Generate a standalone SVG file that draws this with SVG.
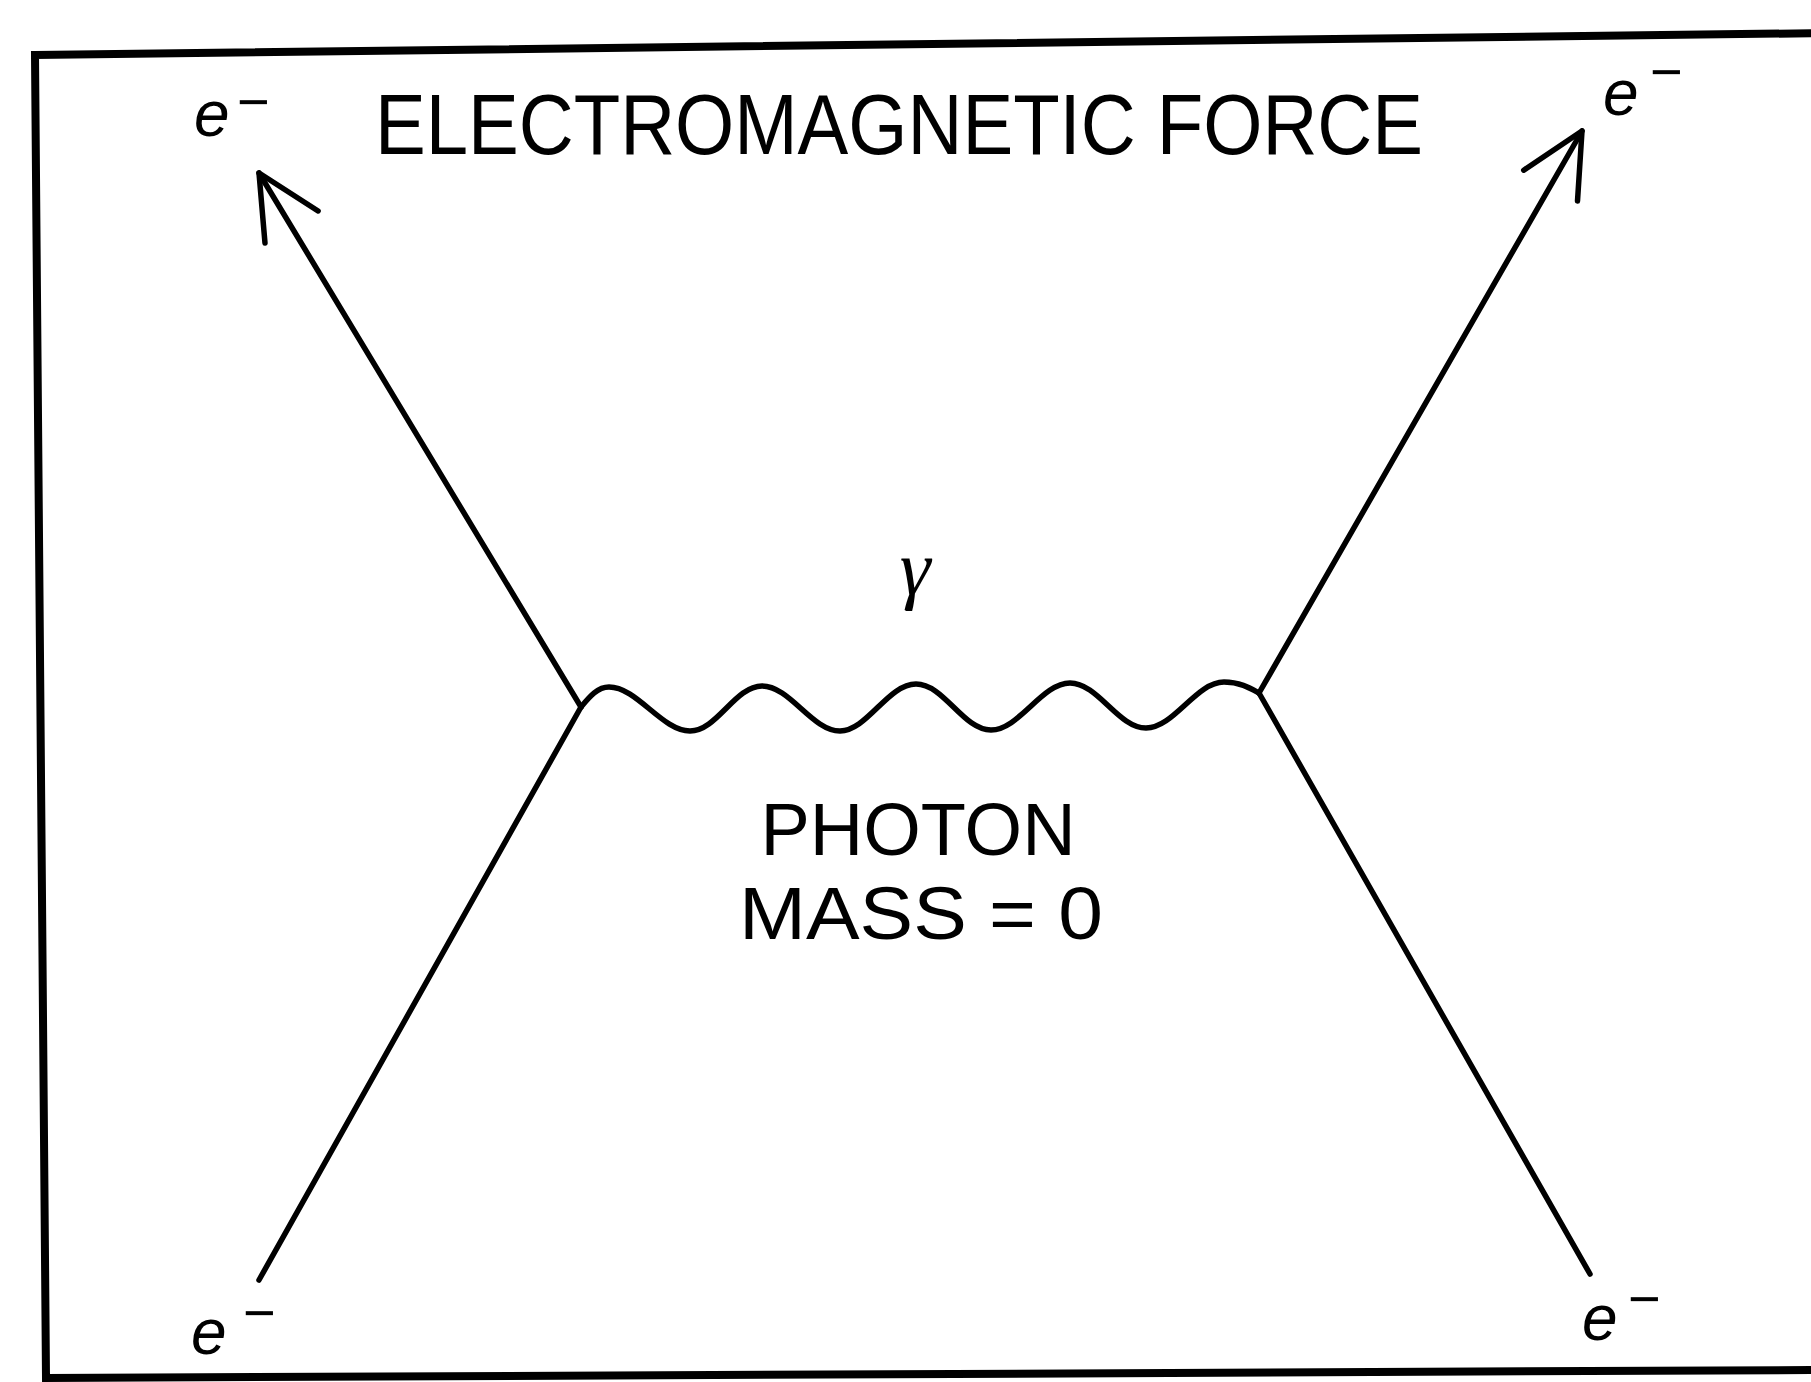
<svg xmlns="http://www.w3.org/2000/svg" width="1811" height="1382" viewBox="0 0 1811 1382">
<defs>
<style>
.ln{stroke:#000;stroke-width:5.5;fill:none;stroke-linecap:round;stroke-linejoin:round}
.lbl{font-family:"Liberation Sans",Arial,sans-serif;fill:#000}
.e{font-family:"Liberation Sans",Arial,sans-serif;font-style:italic;font-size:64px;fill:#000}
.m{font-family:"Liberation Sans",Arial,sans-serif;font-size:56px;fill:#000}
</style>
<marker id="arr" markerUnits="userSpaceOnUse" markerWidth="100" markerHeight="100" refX="0" refY="0" viewBox="-80 -50 100 100" orient="auto" overflow="visible">
<path d="M -63 -31 L 0 0 L -63 31" fill="none" stroke="#000" stroke-width="5.5" stroke-linecap="round" stroke-linejoin="round"/>
</marker>
</defs>
<rect width="1811" height="1382" fill="#fff"/>
<g id="frame">
<path d="M 35 55 L 1830 33 L 1830 1370 L 46 1378 Z" fill="none" stroke="#000" stroke-width="8"/>
</g>
<g id="title">
<text class="lbl" x="375" y="154" font-size="86" textLength="1048" lengthAdjust="spacingAndGlyphs">ELECTROMAGNETIC FORCE</text>
</g>
<g id="connectors">
<line class="ln" x1="581" y1="707" x2="259" y2="173" marker-end="url(#arr)"/>
<line class="ln" x1="581" y1="707" x2="259" y2="1280"/>
<line class="ln" x1="1259" y1="693" x2="1582" y2="131" marker-end="url(#arr)"/>
<line class="ln" x1="1259" y1="693" x2="1590" y2="1274"/>
<path id="photon" class="ln" d="M 581 707 C 590 696 598 687 609 687 C 637 687 662 731 690 731 C 717 731 735 686 762 686 C 790 686 812 731 840 731 C 867 731 888 684 916 684 C 944 684 963 730 991 730 C 1019 730 1042 683 1070 683 C 1098 683 1118 728 1146 728 C 1174 728 1196 682 1224 682 C 1240 682 1250 688 1259 693"/>
</g>
<g id="e-top-left"><text class="e" x="194" y="136">e</text><text class="m" x="237" y="121">−</text></g>
<g id="e-top-right"><text class="e" x="1603" y="115">e</text><text class="m" x="1650" y="91">−</text></g>
<g id="e-bottom-left"><text class="e" x="191" y="1354">e</text><text class="m" x="243" y="1332">−</text></g>
<g id="e-bottom-right"><text class="e" x="1582" y="1340">e</text><text class="m" x="1628" y="1318">−</text></g>
<g id="gamma"><text x="915" y="594" font-family="Liberation Serif,serif" font-style="italic" font-size="78" text-anchor="middle">γ</text></g>
<g id="photon-label">
<text class="lbl" x="918" y="855" font-size="74" text-anchor="middle">PHOTON</text>
<text class="lbl" x="921" y="939" font-size="74" text-anchor="middle" textLength="364" lengthAdjust="spacingAndGlyphs">MASS = 0</text>
</g>
</svg>
